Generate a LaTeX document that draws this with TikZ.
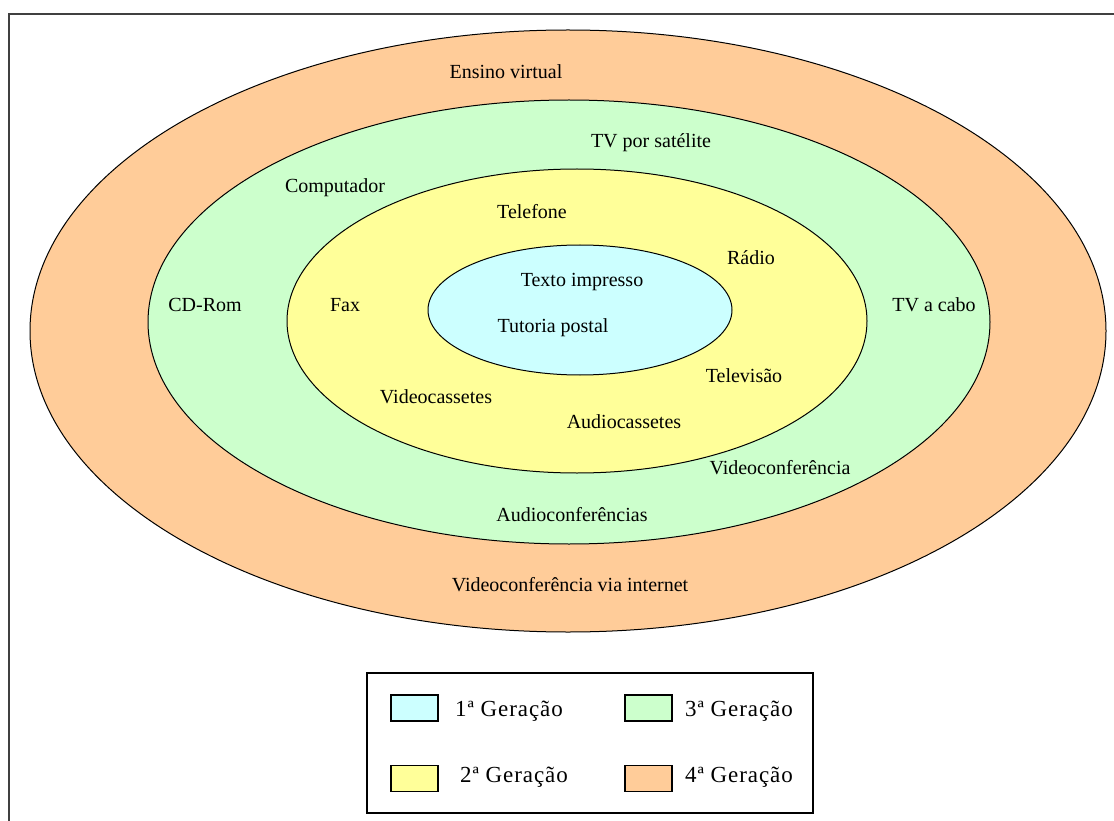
\documentclass[tikz,border=0pt]{standalone}
\usepackage{fontspec}
\setmainfont{Liberation Serif}
\newfontfamily\legfont[LetterSpace=4]{Liberation Serif}
\definecolor{gencyan}{RGB}{204,255,255}
\definecolor{genyellow}{RGB}{255,255,153}
\definecolor{gengreen}{RGB}{204,255,204}
\definecolor{genorange}{RGB}{255,204,153}
\begin{document}
\begin{tikzpicture}[x=1pt, y=-1pt,
		ring/.style = {draw=black, line width=1pt},
		lbl/.style = {inner sep=0pt, font=\fontsize{20}{24}\selectfont},
		key/.style = {draw=black, line width=1.2pt, minimum width=47pt, minimum height=26pt, inner sep=0pt},
		keytxt/.style = {anchor=west, inner sep=0pt, font=\legfont\fontsize{23}{27}\selectfont}]
		\useasboundingbox (0,0) rectangle (1114,821);
		% moldura
		\draw[line width=2pt, black!75] (9,821) -- (9,14) -- (1114,14);
		% geracoes
		\fill[genorange] (568,331) ellipse [x radius=538pt, y radius=301pt];
		\draw[ring] (568,331) ellipse [x radius=538pt, y radius=301pt];
		\fill[gengreen] (569,322) ellipse [x radius=421pt, y radius=222pt];
		\draw[ring] (569,322) ellipse [x radius=421pt, y radius=222pt];
		\fill[genyellow] (577,321) ellipse [x radius=290pt, y radius=152pt];
		\draw[ring] (577,321) ellipse [x radius=290pt, y radius=152pt];
		\fill[gencyan] (580,310) ellipse [x radius=152pt, y radius=65pt];
		\draw[ring] (580,310) ellipse [x radius=152pt, y radius=65pt];
		% 1a geracao
		\node[lbl] (texto) at (582,282) {Texto impresso};
		\node[lbl] (tutoria) at (553,328) {Tutoria postal};
		% 2a geracao
		\node[lbl] (telefone) at (532,212) {Telefone};
		\node[lbl] (radio) at (751,258) {Rádio};
		\node[lbl] (fax) at (345,305) {Fax};
		\node[lbl] (televisao) at (744,376) {Televisão};
		\node[lbl] (vcassete) at (436,397) {Videocassetes};
		\node[lbl] (acassete) at (624,422) {Audiocassetes};
		% 3a geracao
		\node[lbl] (satelite) at (651,143) {TV por satélite};
		\node[lbl] (computador) at (335,188) {Computador};
		\node[lbl] (cdrom) at (205,305) {CD-Rom};
		\node[lbl] (cabo) at (934,305) {TV a cabo};
		\node[lbl] (vconf) at (780,468) {Videoconferência};
		\node[lbl] (aconf) at (572,515) {Audioconferências};
		% 4a geracao
		\node[lbl] (ensino) at (506,72) {Ensino virtual};
		\node[lbl] (internet) at (570,585) {Videoconferência via internet};
		% legenda
		\draw[line width=1.5pt] (367,673) rectangle (813,813);
		\node[key, fill=gencyan] (k1) at (414.5,708) {};
		\node[key, fill=genyellow] (k2) at (414.5,778.5) {};
		\node[key, fill=gengreen] (k3) at (648.5,708) {};
		\node[key, fill=genorange] (k4) at (648.5,778.5) {};
		\node[keytxt] (t1) at (455,711) {1ª Geração};
		\node[keytxt] (t2) at (460,777) {2ª Geração};
		\node[keytxt] (t3) at (685,711) {3ª Geração};
		\node[keytxt] (t4) at (685,777) {4ª Geração};
	\end{tikzpicture}
\end{document}
